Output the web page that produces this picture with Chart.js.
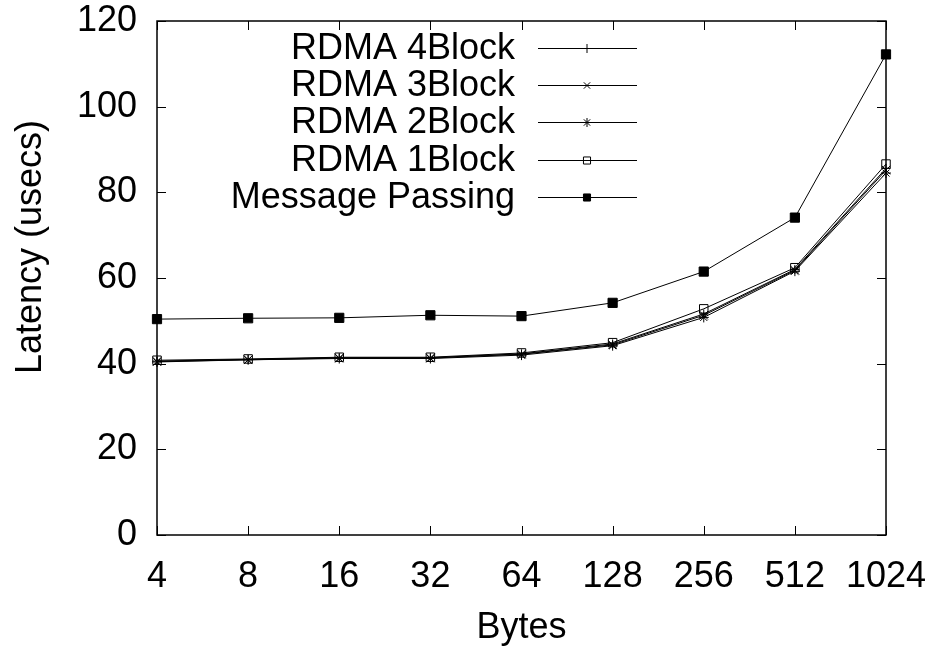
<!DOCTYPE html>
<html>
<head>
<meta charset="utf-8">
<script src="https://cdn.jsdelivr.net/npm/chart.js@4"></script>
<style>
  body { margin: 0; background: #fff; }
</style>
</head>
<body>
<canvas id="chart" width="931" height="650"></canvas>
<script>
const sizes = ['4', '8', '16', '32', '64', '128', '256', '512', '1024'];

const rdma4Block = [40.6, 41.0, 41.4, 41.4, 42.3, 44.6, 51.6, 62.0, 85.6];
const rdma3Block = [40.5, 40.9, 41.3, 41.3, 42.2, 44.4, 51.3, 61.8, 85.2];
const rdma2Block = [40.4, 40.9, 41.2, 41.2, 42.0, 44.2, 50.8, 61.6, 84.5];
const rdma1Block = [40.8, 41.1, 41.5, 41.5, 42.5, 44.9, 52.8, 62.4, 86.6];
const messagePassing = [50.4, 50.6, 50.7, 51.3, 51.1, 54.2, 61.5, 74.1, 112.2];

const yTicks = [0, 20, 40, 60, 80, 100, 120];

const FONT = 'Liberation Sans, Arial, Helvetica, sans-serif';

function series(label, data, style, radius, fill) {
    return {
        label: label,
        data: data,
        borderColor: '#000',
        borderWidth: 1,
        pointStyle: style,
        pointRadius: radius,
        pointBorderColor: '#000',
        pointBorderWidth: 1,
        pointBackgroundColor: fill,
        tension: 0,
        fill: false
    };
}

const datasets = [
    series('RDMA 4Block', rdma4Block, 'cross', 4.5, '#000'),
    series('RDMA 3Block', rdma3Block, 'crossRot', 6, '#000'),
    series('RDMA 2Block', rdma2Block, 'star', 5, '#000'),
    series('RDMA 1Block', rdma1Block, 'rect', 6, 'rgba(0,0,0,0)'),
    series('Message Passing', messagePassing, 'rect', 6.5, '#000')
];

function noScalePadding(scale) {
    scale.paddingTop = 0;
    scale.paddingBottom = 0;
    scale.paddingLeft = 0;
    scale.paddingRight = 0;
}

// gnuplot style frame, inward ticks, y title and the key
const gnuplotLook = {
    id: 'gnuplotLook',
    afterDraw(chart) {
        const ctx = chart.ctx;
        const a = chart.chartArea;
        const xs = chart.scales.x;
        const ys = chart.scales.y;
        const tl = 9;
        ctx.save();
        ctx.strokeStyle = '#000';
        ctx.lineWidth = 1.5;
        ctx.strokeRect(a.left, a.top, a.right - a.left, a.bottom - a.top);
        ctx.lineWidth = 1;
        ctx.beginPath();
        sizes.forEach((s, i) => {
            const x = Math.round(xs.getPixelForValue(i)) + 0.5;
            ctx.moveTo(x, a.bottom); ctx.lineTo(x, a.bottom - tl);
            ctx.moveTo(x, a.top); ctx.lineTo(x, a.top + tl);
        });
        yTicks.forEach(v => {
            const y = Math.round(ys.getPixelForValue(v)) + 0.5;
            ctx.moveTo(a.left, y); ctx.lineTo(a.left + tl, y);
            ctx.moveTo(a.right, y); ctx.lineTo(a.right - tl, y);
        });
        ctx.stroke();

        // y axis title
        ctx.fillStyle = '#000';
        ctx.font = '36px ' + FONT;
        ctx.textAlign = 'center';
        ctx.textBaseline = 'middle';
        ctx.save();
        ctx.translate(31, 247);
        ctx.rotate(-Math.PI / 2);
        ctx.fillText('Latency (usecs)', 0, 0);
        ctx.restore();

        // key
        const rowY = [48, 85, 122, 160, 197];
        ctx.textAlign = 'right';
        chart.data.datasets.forEach((ds, i) => {
            const y = rowY[i];
            ctx.fillStyle = '#000';
            ctx.fillText(ds.label, 515, y + 1);
            ctx.beginPath();
            ctx.strokeStyle = '#000';
            ctx.lineWidth = 1;
            ctx.moveTo(538, y + 0.5);
            ctx.lineTo(637, y + 0.5);
            ctx.stroke();
            ctx.fillStyle = ds.pointBackgroundColor;
            ctx.strokeStyle = '#000';
            Chart.helpers.drawPoint(ctx, {
                pointStyle: ds.pointStyle,
                radius: ds.pointStyle === 'rect' ? 5 : 4.5,
                rotation: 0,
                borderWidth: 1
            }, 587, y + 0.5);
        });
        ctx.restore();
    }
};

new Chart(document.getElementById('chart'), {
    type: 'line',
    data: {
        labels: sizes,
        datasets: datasets
    },
    options: {
        responsive: false,
        animation: false,
        layout: {
            padding: { top: 21, right: 45, left: 0, bottom: 0 }
        },
        plugins: {
            legend: { display: false },
            tooltip: { enabled: false }
        },
        scales: {
            x: {
                type: 'category',
                offset: false,
                grid: { display: false, drawTicks: false },
                border: { display: false },
                ticks: {
                    color: '#000',
                    font: { family: FONT, size: 36 },
                    padding: 20,
                    maxRotation: 0,
                    autoSkip: false
                },
                title: {
                    display: true,
                    text: 'Bytes',
                    color: '#000',
                    font: { family: FONT, size: 36 },
                    padding: { top: 4, bottom: 0 }
                },
                afterFit(scale) {
                    scale.height = 115;
                    noScalePadding(scale);
                }
            },
            y: {
                min: 0,
                max: 120,
                grid: { display: false, drawTicks: false },
                border: { display: false },
                ticks: {
                    stepSize: 20,
                    color: '#000',
                    font: { family: FONT, size: 36 },
                    padding: 20
                },
                afterFit(scale) {
                    scale.width = 157;
                    noScalePadding(scale);
                }
            }
        }
    },
    plugins: [gnuplotLook]
});
</script>
</body>
</html>
